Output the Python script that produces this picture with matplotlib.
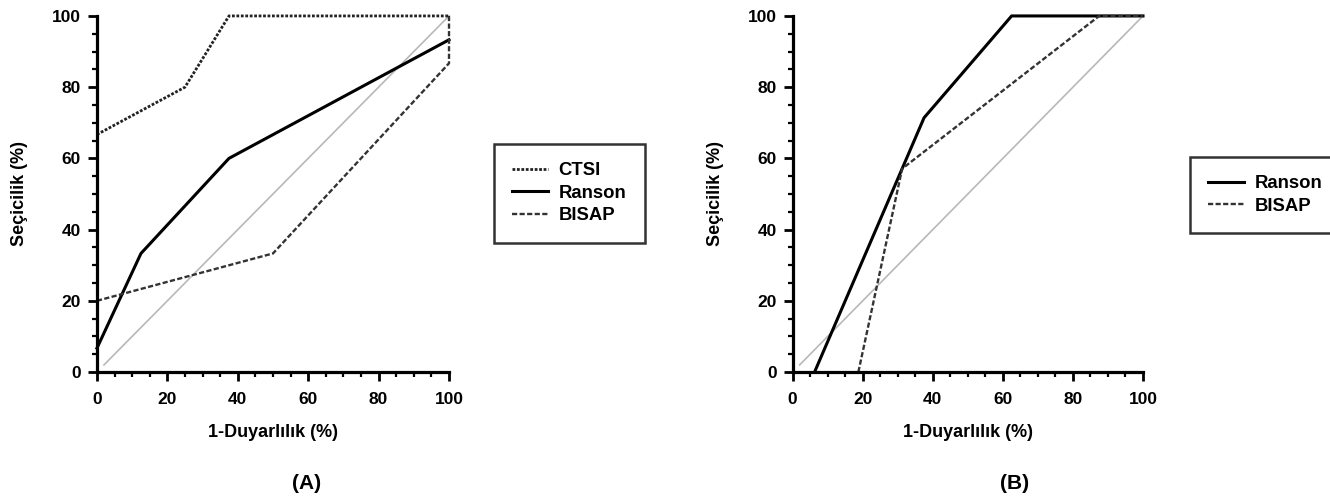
import matplotlib
matplotlib.use('Agg')
import matplotlib.pyplot as plt
from matplotlib.ticker import MultipleLocator

plt.rcParams['font.family'] = ['Liberation Sans', 'DejaVu Sans']
plt.rcParams['font.weight'] = 'bold'

# (A)
a_ctsi_x = [0, 25, 37.5, 100]
a_ctsi_y = [66.7, 80, 100, 100]
a_ranson_x = [0, 12.5, 37.5, 100]
a_ranson_y = [6.7, 33.3, 60, 93.3]
a_bisap_x = [0, 50, 100, 100]
a_bisap_y = [20, 33.3, 86.7, 100]

# (B)
b_ranson_x = [6.25, 37.5, 62.5, 100]
b_ranson_y = [0, 71.4, 100, 100]
b_bisap_x = [18.75, 31.25, 87.5, 100]
b_bisap_y = [0, 57.1, 100, 100]

ref_x = [2, 100]
ref_y = [2, 100]

xlabel = '1-Duyarlılık (%)'
ylabel = 'Seçicilik (%)'


def style_axes(ax):
    ax.set_xlim(0, 100)
    ax.set_ylim(0, 100)
    for s in ['top', 'right']:
        ax.spines[s].set_visible(False)
    for s in ['left', 'bottom']:
        ax.spines[s].set_linewidth(2.3)
    ax.xaxis.set_major_locator(MultipleLocator(20))
    ax.yaxis.set_major_locator(MultipleLocator(20))
    ax.xaxis.set_minor_locator(MultipleLocator(5))
    ax.yaxis.set_minor_locator(MultipleLocator(5))
    ax.tick_params(which='major', length=6.5, width=2, labelsize=12.5)
    ax.tick_params(which='minor', length=3.5, width=1.6)
    ax.tick_params(axis='x', which='major', pad=8)
    ax.tick_params(axis='y', which='major', pad=5)
    ax.set_xlabel(xlabel, fontsize=13, fontweight='bold', labelpad=12)
    ax.set_ylabel(ylabel, fontsize=13, fontweight='bold', labelpad=17)
    for lbl in ax.get_xticklabels() + ax.get_yticklabels():
        lbl.set_fontweight('bold')


def add_legend(ax, anchor):
    leg = ax.legend(loc='upper left', bbox_to_anchor=anchor, bbox_transform=fig.transFigure,
                    frameon=True, fancybox=False, edgecolor='black', fontsize=13.3,
                    handlelength=1.9, borderpad=1.0, labelspacing=0.29,
                    handletextpad=0.6, borderaxespad=0)
    leg.get_frame().set_linewidth(1.8)
    for t in leg.get_texts():
        t.set_fontweight('bold')
    return leg


fig = plt.figure(figsize=(13.3, 4.98), dpi=100)
ax1 = fig.add_axes([0.0729, 0.253, 0.2647, 0.715])
ax2 = fig.add_axes([0.596, 0.253, 0.2634, 0.715])

ax1.plot(ref_x, ref_y, color='#b8b8b8', lw=1.2, clip_on=False)
ax1.plot(a_ctsi_x, a_ctsi_y, color='#222222', lw=2.0, ls=(0, (1, 0.6)), label='CTSI', clip_on=False)
ax1.plot(a_ranson_x, a_ranson_y, color='black', lw=2.2, label='Ranson', clip_on=False)
ax1.plot(a_bisap_x, a_bisap_y, color='#333333', lw=1.7, ls=(0, (2.2, 1)), label='BISAP', clip_on=False)
style_axes(ax1)
add_legend(ax1, (0.3714, 0.7108))

ax2.plot(ref_x, ref_y, color='#b8b8b8', lw=1.2, clip_on=False)
ax2.plot(b_ranson_x, b_ranson_y, color='black', lw=2.2, label='Ranson', clip_on=False)
ax2.plot(b_bisap_x, b_bisap_y, color='#333333', lw=1.7, ls=(0, (2.2, 1)), label='BISAP', clip_on=False)
style_axes(ax2)
add_legend(ax2, (0.8947, 0.6847))

fig.text(307 / 1330, 1 - 483 / 498, '(A)', ha='center', va='center', fontsize=15, fontweight='bold')
fig.text(1015 / 1330, 1 - 483 / 498, '(B)', ha='center', va='center', fontsize=15, fontweight='bold')

fig.savefig('out.png', dpi=100)
